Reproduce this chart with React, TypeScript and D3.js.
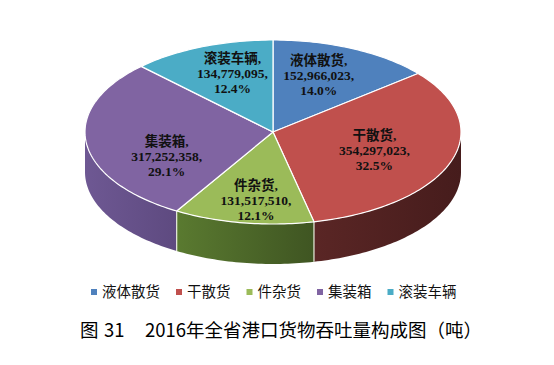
import * as React from 'react'
import * as d3 from 'd3'

const categories = ['液体散货', '干散货', '件杂货', '集装箱', '滚装车辆']
const values = [152966023, 354297023, 131517510, 317252358, 134779095]
const topColors = ['#4F81BD', '#C0504D', '#9BBB59', '#8064A2', '#4BACC6']
const sideLight = ['#3d6594', '#5a2625', '#5a7a30', '#6e5893', '#3a8aa0']
const sideDark = ['#2c4a6e', '#461c1c', '#3f5522', '#5e4a80', '#2c6c7e']
const titleText = '2016年全省港口货物吞吐量构成图（吨）'

const W = 554
const H = 365
const cx = 273
const cy = 132
const rx = 188
const ry = 92
const depth = 40

// label tweaks (Excel moves some labels around)
const nudge: Record<string, number> = { 干散货: -6, 集装箱: 14 }

const pt = (a: number, r = 1, dy = 0): [number, number] => [
  cx + rx * r * Math.sin(a),
  cy - ry * r * Math.cos(a) + dy,
]

function arcPts(a0: number, a1: number, dy = 0) {
  const n = Math.max(2, Math.ceil(Math.abs(a1 - a0) / 0.02))
  return d3.range(n + 1).map((i) => pt(a0 + ((a1 - a0) * i) / n, 1, dy))
}

const line = d3.line()

export default function App() {
  const pie = d3.pie<number>().sort(null).startAngle(0).endAngle(2 * Math.PI)
  const arcs = pie(values)
  const total = d3.sum(values)
  const fmt = d3.format(',')
  const pct = d3.format('.1%')

  const sides = arcs
    .map((d, i) => {
      const a0 = Math.max(d.startAngle, Math.PI / 2)
      const a1 = Math.min(d.endAngle, (3 * Math.PI) / 2)
      if (a1 <= a0) return null
      const top = arcPts(a0, a1)
      const bot = arcPts(a1, a0, depth)
      return { i, d: line([...top, ...bot])! + 'Z' }
    })
    .filter(Boolean) as { i: number; d: string }[]

  const edges = arcs
    .map((d) => d.startAngle)
    .filter((a) => a > Math.PI / 2 && a < (3 * Math.PI) / 2)

  let lx = 94
  const legend = categories.map((c, i) => {
    const item = { c, i, x: lx }
    lx += 8 + c.length * 14.5 + 19
    return item
  })

  return (
    <svg width={W} height={H} style={{ position: 'absolute', left: 0, top: 0, background: '#fff' }}>
      <defs>
        {topColors.map((c, i) => (
          <linearGradient key={i} id={`side${i}`} x1="0" x2="1" y1="0" y2="0">
            <stop offset="0%" stopColor={sideLight[i]} />
            <stop offset="100%" stopColor={sideDark[i]} />
          </linearGradient>
        ))}
      </defs>
      {sides.map((s) => (
        <path key={s.i} d={s.d} fill={`url(#side${s.i})`} />
      ))}
      {edges.map((a, k) => {
        const [x, y] = pt(a)
        return <line key={k} x1={x} y1={y} x2={x} y2={y + depth} stroke="#e8eedd" strokeWidth={1.2} />
      })}
      {arcs.map((d, i) => {
        const pts = [[cx, cy] as [number, number], ...arcPts(d.startAngle, d.endAngle)]
        return (
          <path key={i} d={line(pts)! + 'Z'} fill={topColors[i]} stroke="#fff" strokeWidth={1.2} strokeLinejoin="round" />
        )
      })}
      {arcs.map((d, i) => {
        const mid = (d.startAngle + d.endAngle) / 2
        const x = cx + rx * 0.57 * Math.sin(mid)
        const y = cy + 3 - 66 * Math.cos(mid) + (nudge[categories[i]] || 0)
        const lines = [categories[i] + ',', fmt(values[i]) + ',', pct(values[i] / total)]
        return (
          <text
            key={i}
            x={x}
            y={y}
            textAnchor="middle"
            fontFamily="'Liberation Serif', 'Noto Sans CJK SC', serif"
            fontWeight="bold"
            fontSize={13.5}
            fill="#111"
          >
            {lines.map((t, k) => (
              <tspan key={k} x={x} y={y + (k - 1) * 15 + 4.5}>
                {t}
              </tspan>
            ))}
          </text>
        )
      })}
      {legend.map((l) => (
        <g key={l.i}>
          <rect x={l.x - 3} y={289} width={6} height={6} fill={topColors[l.i]} />
          <text x={l.x + 8} y={297} fontFamily="'Noto Sans CJK SC', sans-serif" fontSize={14.5} fill="#111">
            {l.c}
          </text>
        </g>
      ))}
      <text y={336.5} fontFamily="'Noto Sans CJK SC', sans-serif" fontSize={18.5} fill="#000">
        <tspan x={80}>图</tspan>
        <tspan x={104}>31</tspan>
        <tspan x={145}>{titleText}</tspan>
      </text>
    </svg>
  )
}
